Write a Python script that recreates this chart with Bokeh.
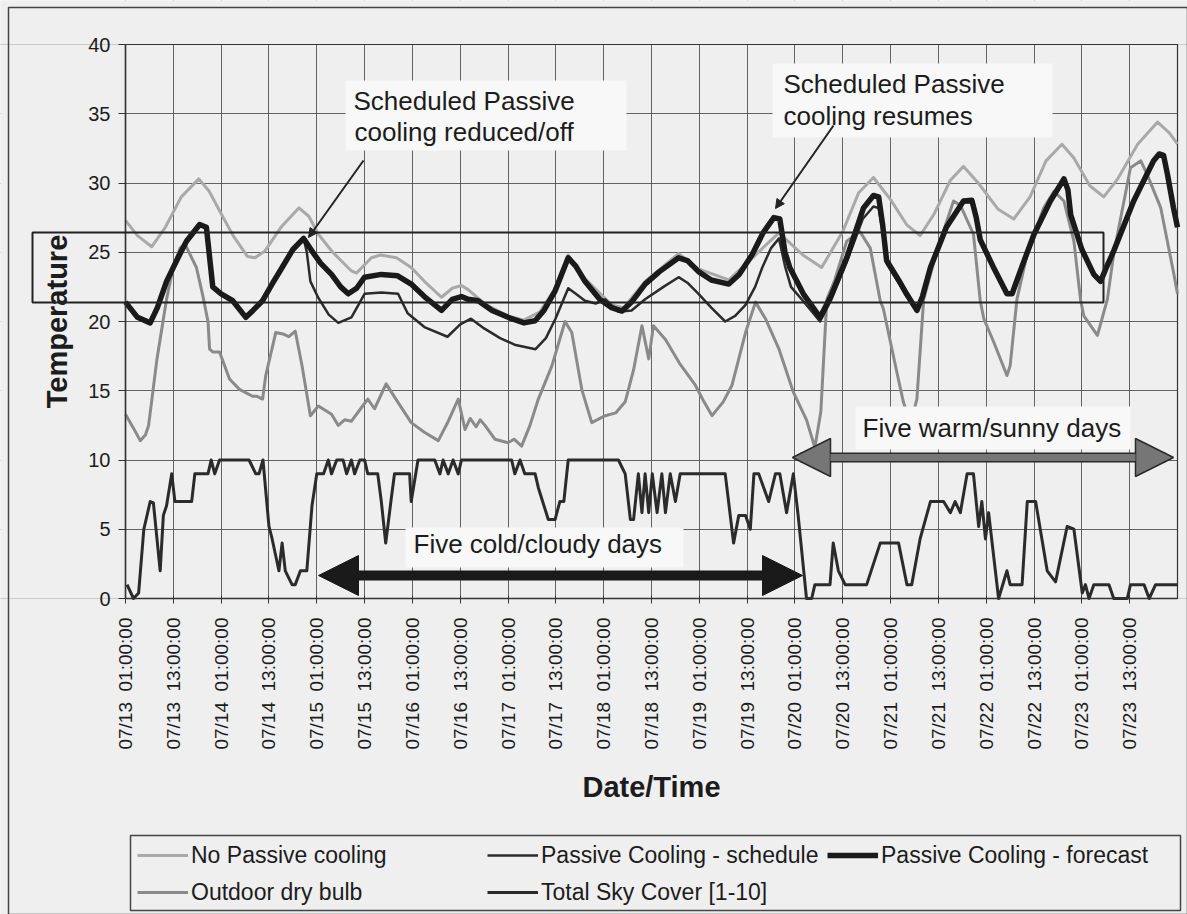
import math
from bokeh.plotting import figure
from bokeh.models import (Range1d, FixedTicker, Label, BoxAnnotation, Arrow,
                          NormalHead, Legend, LegendItem)
from bokeh.embed import file_html
from bokeh.resources import INLINE

# ---------------- data (hours since 07/13 01:00) ----------------
tick_hours = [0, 12, 24, 36, 48, 60, 72, 84, 96, 108, 120, 132, 144, 156,
              168, 180, 192, 204, 216, 228, 240, 252]
tick_labels = ["07/13  01:00:00", "07/13  13:00:00", "07/14  01:00:00", "07/14  13:00:00",
               "07/15  01:00:00", "07/15  13:00:00", "07/16  01:00:00", "07/16  13:00:00",
               "07/17  01:00:00", "07/17  13:00:00", "07/18  01:00:00", "07/18  13:00:00",
               "07/19  01:00:00", "07/19  13:00:00", "07/20  01:00:00", "07/20  13:00:00",
               "07/21  01:00:00", "07/21  13:00:00", "07/22  01:00:00", "07/22  13:00:00",
               "07/23  01:00:00", "07/23  13:00:00"]
y_ticks = [0, 5, 10, 15, 20, 25, 30, 35, 40]

nopc_h = [0, 3, 6.6, 10, 14, 18.4, 21, 23.6, 27, 30.6, 32.5, 35, 39, 43.5, 46, 48.4, 52,
          56.7, 58, 61.7, 64, 68, 71.7, 75, 79.3, 82, 84.3, 86, 90, 96, 100, 104, 107.8,
          111.1, 115.3, 122, 125, 130.4, 138.8, 143.8, 151.4, 157, 161, 164, 170, 174.7,
          180, 184, 187.7, 192, 196, 199.4, 203, 207, 210.3, 214, 219, 222.9, 227, 231,
          235, 238, 242, 245.5, 249, 254, 259, 262, 264]
nopc_t = [27.3, 26.2, 25.4, 26.8, 29.0, 30.3, 29.4, 28.0, 26.2, 24.7, 24.6, 25.1, 26.8,
          28.2, 27.6, 26.3, 25.0, 23.65, 23.5, 24.6, 24.8, 24.6, 23.9, 22.9, 21.75, 22.4,
          22.6, 22.3, 21.3, 20.4, 20.1, 20.7, 22.4, 24.8, 23.1, 21.2, 21.0, 22.9, 24.9,
          23.8, 23.0, 24.5, 25.6, 26.4, 24.8, 23.9, 26.5, 29.3, 30.4, 28.8, 27.0, 26.2,
          27.8, 30.2, 31.2, 30.0, 28.1, 27.4, 29.0, 31.6, 32.8, 31.8, 29.8, 29.0, 30.3,
          32.8, 34.4, 33.6, 32.8]

fore_h = [0, 3, 6.2, 8, 10.3, 13, 15.3, 18.6, 20.3, 21.9, 24, 26.9, 30.2, 32, 34.4, 37,
          39.3, 42, 44.7, 47, 49, 51.7, 54, 55.9, 58, 60, 64.2, 68.3, 71.7, 75, 79.3, 82,
          84.3, 86, 88.5, 92, 96.9, 100, 102.8, 105, 107.8, 111.1, 113, 115.3, 119, 122,
          124.6, 127, 130.4, 134, 138.8, 141, 143.8, 147, 151.4, 154, 157.2, 160, 162.7,
          164.2, 165.5, 166.7, 170.1, 174.3, 177, 181, 185.2, 187.7, 189, 190, 191, 194,
          196, 198.6, 200, 202, 206, 210.3, 212.4, 213.5, 214.5, 218, 221.2, 222.5, 225,
          228, 232.1, 235.5, 236.5, 237.2, 240, 243, 244.7, 246, 248, 253, 258, 259.4,
          260.5, 261.5, 263, 264]
fore_t = [21.4, 20.3, 19.9, 21.0, 22.9, 24.5, 25.8, 27.0, 26.8, 22.5, 22.0, 21.5, 20.3,
          20.8, 21.5, 22.8, 23.9, 25.2, 26.0, 25.0, 24.2, 23.4, 22.5, 22.0, 22.4, 23.2,
          23.4, 23.3, 22.7, 21.8, 20.8, 21.6, 21.8, 21.6, 21.5, 20.8, 20.2, 19.9, 20.05,
          20.8, 22.2, 24.6, 24.0, 22.9, 21.6, 21.0, 20.75, 21.4, 22.7, 23.6, 24.6, 24.4,
          23.6, 23.0, 22.7, 23.4, 24.8, 26.4, 27.5, 27.4, 25.0, 23.9, 22.0, 20.3, 21.8,
          24.6, 28.2, 29.1, 29.0, 27.0, 24.4, 23.0, 22.0, 20.8, 21.8, 23.9, 26.8, 28.7,
          28.75, 27.5, 25.9, 23.8, 22.0, 22.0, 24.0, 26.3, 28.7, 30.3, 29.5, 27.7, 25.2,
          23.4, 22.9, 23.8, 25.1, 28.7, 31.6, 32.1, 32.0, 30.6, 28.2, 26.8]

sched_h = [0, 3, 6.2, 8, 10.3, 13, 15.3, 18.6, 20.3, 21.9, 24, 26.9, 30.2, 32, 34.4, 37,
           39.3, 42, 44.7, 45.5, 46.4, 48.4, 51, 53.4, 56.7, 60, 64.2, 68.4, 70.8, 75,
           80.8, 84, 86.7, 90, 94, 97.9, 102.9, 105.5, 107.9, 111.1, 113, 115.3, 118,
           120.4, 123.7, 127, 130.4, 135, 138.8, 141, 143.8, 147, 150.5, 153, 155.6, 158,
           159.8, 162, 164, 165.5, 167, 170, 174.3, 177, 181, 185, 187.7, 189, 190, 191,
           194, 196, 198.6, 200, 202, 206, 210.3, 212.4, 213.5, 214.5, 218, 221.2, 222.5,
           225, 228, 232.1, 235.5, 236.5, 237.2, 240, 243, 244.7, 246, 248, 253, 258,
           259.4, 260.5, 261.5, 263, 264]
sched_t = [21.4, 20.3, 19.9, 21.0, 22.9, 24.5, 25.8, 27.0, 26.8, 22.5, 22.0, 21.5, 20.3,
           20.8, 21.5, 22.8, 23.9, 25.2, 26.0, 25.0, 22.9, 21.7, 20.5, 19.9, 20.3, 22.0,
           22.1, 22.0, 20.6, 19.6, 18.9, 19.8, 20.2, 19.5, 18.8, 18.3, 18.0, 18.8, 20.2,
           22.4, 22.0, 21.5, 21.3, 21.6, 20.7, 20.8, 21.6, 22.5, 23.2, 22.8, 22.0, 21.0,
           20.0, 20.4, 21.2, 22.5, 23.9, 25.3, 26.0, 24.0, 22.5, 21.5, 20.0, 21.5, 24.3,
           27.4, 28.3, 28.2, 26.5, 24.2, 22.8, 21.8, 20.9, 21.8, 23.9, 26.8, 28.6, 28.6,
           27.4, 25.8, 23.7, 22.0, 22.0, 24.0, 26.3, 28.6, 30.1, 29.4, 27.6, 25.1, 23.3,
           22.8, 23.8, 25.1, 28.6, 31.5, 32.0, 31.9, 30.5, 28.1, 26.8]

odb_h = [0, 2, 3.7, 5, 5.8, 7.9, 10.3, 12, 13.7, 14.9, 17.8, 19.3, 20.7, 21.1, 21.9,
         23.6, 26.1, 28.6, 31.9, 33, 34.4, 35.2, 37.7, 39.5, 41, 42.6, 44.3, 46.4, 48.4,
         51.7, 53.4, 55, 56.7, 59, 60.8, 62.5, 65.4, 68.3, 71.7, 75, 78.5, 81, 83.5, 85.2,
         86.5, 88, 89, 90.2, 92.7, 96, 97.5, 99.4, 101.5, 103.6, 107, 110.3, 112, 114.5,
         117, 120.4, 123, 125.4, 127.5, 129.6, 131.3, 132.5, 135.5, 139, 143, 145, 147.2,
         150, 152.2, 155.6, 158.1, 160.6, 164, 167.6, 170.9, 173, 174.5, 176, 178, 181,
         184.3, 186.9, 189.4, 190.2, 193.6, 195.2, 197, 198.6, 200.3, 203.6, 207.8,
         209.5, 212.8, 214.5, 215.4, 217.9, 221.2, 222, 223.7, 226.3, 230.4, 233, 235.5,
         238, 239.7, 240.5, 243.9, 246.4, 248, 252.2, 254.8, 256.4, 259.8, 263.1, 264]
odb_t = [13.3, 12.3, 11.4, 11.8, 12.5, 17.3, 21.6, 24.0, 25.3, 25.6, 23.9, 22.0, 20.0,
         18.0, 17.8, 17.8, 15.85, 15.1, 14.6, 14.6, 14.4, 16.1, 19.2, 19.1, 18.9, 19.3,
         16.8, 13.2, 13.9, 13.3, 12.5, 12.9, 12.8, 13.7, 14.4, 13.7, 15.5, 14.2, 12.7,
         12.0, 11.4, 12.8, 14.4, 12.2, 13.0, 12.4, 12.9, 12.5, 11.5, 11.25, 11.5, 11.0,
         12.5, 14.4, 16.8, 20.0, 19.2, 15.1, 12.7, 13.2, 13.4, 14.2, 16.5, 19.7, 17.3,
         19.7, 18.7, 17.0, 15.4, 14.3, 13.2, 14.2, 15.4, 19.2, 21.4, 20.2, 18.0, 14.9,
         12.9, 10.9, 13.5, 21.6, 23.0, 25.8, 26.5, 25.3, 21.5, 20.9, 16.3, 14.2, 12.6,
         14.4, 21.6, 25.1, 28.7, 28.4, 26.3, 21.5, 20.2, 18.5, 16.1, 16.8, 21.6, 24.9,
         28.2, 29.4, 28.7, 25.8, 21.5, 20.4, 19.0, 21.6, 24.9, 31.1, 31.6, 30.6, 28.2,
         23.4, 22.0]

sky_h = [0.4, 2, 3.3, 4.6, 6.2, 7, 8.7, 9.5, 10.3, 11.6, 12.4, 16.6, 17.4, 20.7, 21.5,
         22.4, 23.6, 31, 32.7, 33.5, 34.5, 36, 36.8, 38.5, 39.3, 40.1, 41.8, 42.6, 43.9,
         45.5, 46.8, 48, 49.7, 50.9, 51.7, 53, 54.6, 55.5, 56.7, 57.5, 58.8, 60, 60.8,
         63.3, 64.2, 65.3, 66.6, 67.5, 71.3, 71.7, 73.4, 77.6, 78.9, 79.7, 81, 82.2, 83.5,
         84.3, 96.9, 97.7, 99, 100.2, 102.8, 103.6, 106.1, 107.8, 109, 110, 111.1, 123.7,
         125.4, 126.7, 127.5, 128.7, 129.6, 130.4, 131.3, 132.2, 133.4, 134.6, 135.5,
         136.7, 138, 139.2, 150.5, 152.6, 153.9, 155.6, 156.8, 157.7, 158.9, 161.4, 163.1,
         164.2, 165.9, 167.6, 168.8, 170.9, 172.2, 173, 176.8, 177.6, 178.9, 180.6, 186,
         189.4, 194, 196.1, 197.3, 199.4, 202, 205.3, 207, 208.2, 209.5, 211.2, 212.8,
         214.1, 214.9, 215.8, 216.6, 219.1, 221.2, 222, 225, 226.3, 228.4, 231.3, 233.4,
         236.3, 238, 240.1, 240.9, 241.8, 243, 246.8, 248, 251.4, 252.2, 255.6, 256.9,
         258.5, 264]
sky_v = [1, 0, 0.4, 5, 7, 6.9, 2, 6, 6.7, 9, 7, 7, 9, 9, 10, 9, 10, 10, 9, 9, 10, 5.2,
         4.3, 2, 4, 2, 1, 1, 2, 2, 6.7, 9, 9, 10, 9, 10, 10, 9, 10, 9, 10, 10, 9, 9, 7, 4,
         7, 9, 9, 7, 10, 10, 9, 10, 9, 10, 9, 10, 10, 9, 10, 9, 9, 8, 5.7, 5.7, 7, 7, 10,
         10, 9, 5.7, 5.7, 9, 6.2, 9, 6.2, 9, 6.2, 9, 6.2, 9, 7, 9, 9, 4, 6, 6, 5, 9, 9, 7,
         9, 9, 6.2, 9, 6, 0, 0, 1, 1, 4, 2, 1, 1, 4, 4, 1, 1, 4.3, 7, 7, 6.2, 7, 6.2, 9, 9,
         5.2, 7, 4.3, 6.2, 0, 2, 1, 1, 7, 7, 2, 1.2, 5.2, 5, 0.4, 1, 0, 1, 1, 0, 0, 1, 1, 0,
         1, 1]

FONT = "Liberation Sans"
BG = "#efefef"
INK = "#1c1c1c"

# canvas geometry: plot area spans pixels x 125..1177, y 44..598 of a 1187x914 canvas
W, H = 1187, 914
PX_L, PX_R, PY_T, PY_B = 125, 1177, 44, 598
X0, X1, Y0, Y1 = 0, 264, 0, 40
sx = (PX_R - PX_L) / (X1 - X0)
sy = (PY_B - PY_T) / (Y1 - Y0)
x_start = X0 - PX_L / sx
x_end = X1 + (W - PX_R) / sx
y_end = Y1 + PY_T / sy
y_start = Y0 - (H - PY_B) / sy

def hx(px):   # page pixel -> hours
    return X0 + (px - PX_L) / sx

def ty(py):   # page pixel -> temperature
    return Y0 + (PY_B - py) / sy

p = figure(width=W, height=H, output_backend="svg", toolbar_location=None,
           x_range=Range1d(x_start, x_end), y_range=Range1d(y_start, y_end),
           min_border_left=0, min_border_right=0, min_border_top=0,
           min_border_bottom=0)
p.background_fill_color = BG
p.border_fill_color = BG
p.outline_line_color = None

xa = p.xaxis[0]
xa.fixed_location = 0
xa.bounds = (X0, X1)
xa.ticker = FixedTicker(ticks=tick_hours)
xa.major_label_overrides = {h: lab.replace("  ", "\u00a0\u00a0")
                            for h, lab in zip(tick_hours, tick_labels)}
xa.major_label_orientation = math.pi / 2
xa.major_label_text_font = FONT
xa.major_label_text_font_size = "19px"
xa.major_label_text_color = INK
xa.major_label_standoff = 14
xa.major_tick_in = 3
xa.major_tick_out = 5
xa.minor_tick_line_color = None
xa.axis_line_color = "#333333"
xa.axis_line_width = 1.5
xa.major_tick_line_color = "#333333"
xa.axis_label = "Date/Time"
xa.axis_label_text_font = FONT
xa.axis_label_text_font_style = "bold"
xa.axis_label_text_font_size = "29px"
xa.axis_label_text_color = INK
xa.axis_label_standoff = 18

ya = p.yaxis[0]
ya.fixed_location = 0
ya.bounds = (Y0, Y1)
ya.ticker = FixedTicker(ticks=y_ticks)
ya.major_label_text_font = FONT
ya.major_label_text_font_size = "20px"
ya.major_label_text_color = INK
ya.major_label_standoff = 8
ya.major_tick_in = 0
ya.major_tick_out = 7
ya.minor_tick_line_color = None
ya.axis_line_color = "#333333"
ya.axis_line_width = 1.5
ya.major_tick_line_color = "#333333"
ya.axis_label = "Temperature"
ya.axis_label_text_font = FONT
ya.axis_label_text_font_style = "bold"
ya.axis_label_text_font_size = "29px"
ya.axis_label_text_color = INK
ya.axis_label_standoff = 12

p.xgrid.ticker = FixedTicker(ticks=tick_hours)
p.ygrid.ticker = FixedTicker(ticks=y_ticks)
for g in (p.xgrid[0], p.ygrid[0]):
    g.grid_line_color = "#4a4a4a"
    g.grid_line_width = 1
    g.grid_line_alpha = 0.85

# masks keep the grid inside the plot area
for kw in (dict(bottom=Y1), dict(top=Y0), dict(right=X0, bottom=Y0, top=Y1),
           dict(left=X1, bottom=Y0, top=Y1)):
    p.add_layout(BoxAnnotation(fill_color=BG, fill_alpha=1, line_alpha=0,
                               level="underlay", **kw))
# plot-area border
p.add_layout(BoxAnnotation(left=X0, right=X1, bottom=Y0, top=Y1, fill_alpha=0,
                           line_color="#333333", line_alpha=1, line_width=1.2,
                           level="underlay"))
# outer chart border
p.add_layout(BoxAnnotation(left=hx(8), top=ty(7), fill_alpha=0,
                           line_color="#444444", line_alpha=1, line_width=1.5))

r_nopc = p.line(nopc_h, nopc_t, line_color="#a9a9a9", line_width=3, line_join="round")
r_odb = p.line(odb_h, odb_t, line_color="#8a8a8a", line_width=3, line_join="round")
r_sky = p.line(sky_h, sky_v, line_color="#2b2b2b", line_width=3, line_join="round")
r_sched = p.line(sched_h, sched_t, line_color="#2b2b2b", line_width=2.5, line_join="round")
r_fore = p.line(fore_h, fore_t, line_color="#1a1a1a", line_width=5.5, line_join="round")

# white text boxes (page pixels)
for (l, r, t, b) in [(345, 626, 80, 150), (772, 1052, 63, 137),
                     (405, 683, 527, 567), (855, 1130, 406, 449)]:
    p.add_layout(BoxAnnotation(left=hx(l), right=hx(r), top=ty(t), bottom=ty(b),
                               fill_color="#f8f8f8", fill_alpha=1, line_alpha=0))

# comfort band rectangle drawn on the chart
p.add_layout(BoxAnnotation(left=hx(32), right=hx(1103), top=ty(232), bottom=ty(302),
                           fill_alpha=0, line_color="#222222", line_alpha=1,
                           line_width=2))

texts = [(353, 100, "Scheduled Passive"), (354, 131, "cooling reduced/off"),
         (783, 83, "Scheduled Passive"), (783, 115, "cooling resumes"),
         (413, 543, "Five cold/cloudy days"), (862, 427, "Five warm/sunny days")]
for (x, y, s) in texts:
    p.add_layout(Label(x=hx(x), y=ty(y), text=s, text_font=FONT, text_font_size="26px",
                       text_color=INK, text_baseline="middle", text_align="left"))

# pointers
p.add_layout(Arrow(x_start=hx(363), y_start=ty(160), x_end=hx(308), y_end=ty(237),
                   line_color="#222222", line_width=2,
                   end=NormalHead(size=9, fill_color="#222222", line_color="#222222")))
p.add_layout(Arrow(x_start=hx(833), y_start=ty(125), x_end=hx(775), y_end=ty(208),
                   line_color="#222222", line_width=2,
                   end=NormalHead(size=9, fill_color="#222222", line_color="#222222")))

# double arrows
p.add_layout(Arrow(x_start=hx(318), y_start=ty(575), x_end=hx(802), y_end=ty(575),
                   line_color="#1a1a1a", line_width=10,
                   start=NormalHead(size=40, fill_color="#1a1a1a", line_color="#1a1a1a"),
                   end=NormalHead(size=40, fill_color="#1a1a1a", line_color="#1a1a1a")))
p.add_layout(Arrow(x_start=hx(800), y_start=ty(457), x_end=hx(1165), y_end=ty(457),
                   line_color="#2a2a2a", line_width=10, start=None, end=None))
p.add_layout(Arrow(x_start=hx(792), y_start=ty(457), x_end=hx(1173), y_end=ty(457),
                   line_color="#767676", line_width=7,
                   start=NormalHead(size=38, fill_color="#767676", line_color="#2a2a2a", line_width=1.5),
                   end=NormalHead(size=38, fill_color="#767676", line_color="#2a2a2a", line_width=1.5)))

# legend box
p.add_layout(BoxAnnotation(left=hx(130), right=hx(1180), top=ty(835), bottom=ty(910),
                           fill_alpha=0, line_color="#444444", line_alpha=1,
                           line_width=1.5))

def make_legend(items, left_px, bottom_px):
    lg = Legend(items=items, location=(left_px, H - bottom_px), orientation="vertical",
                label_text_font=FONT, label_text_font_size="23px", label_text_color=INK,
                glyph_width=51, glyph_height=30, label_height=30, label_standoff=3,
                spacing=7, padding=0, margin=0, border_line_alpha=0,
                background_fill_alpha=0)
    p.add_layout(lg)

make_legend([LegendItem(label="No Passive cooling", renderers=[r_nopc]),
             LegendItem(label="Outdoor dry bulb", renderers=[r_odb])], 137, 907)
make_legend([LegendItem(label="Passive Cooling - schedule", renderers=[r_sched]),
             LegendItem(label="Total Sky Cover [1-10]", renderers=[r_sky])], 487, 907)
make_legend([LegendItem(label="Passive Cooling - forecast", renderers=[r_fore])], 827, 870)

open("out.html", "w").write(file_html(p, INLINE))
